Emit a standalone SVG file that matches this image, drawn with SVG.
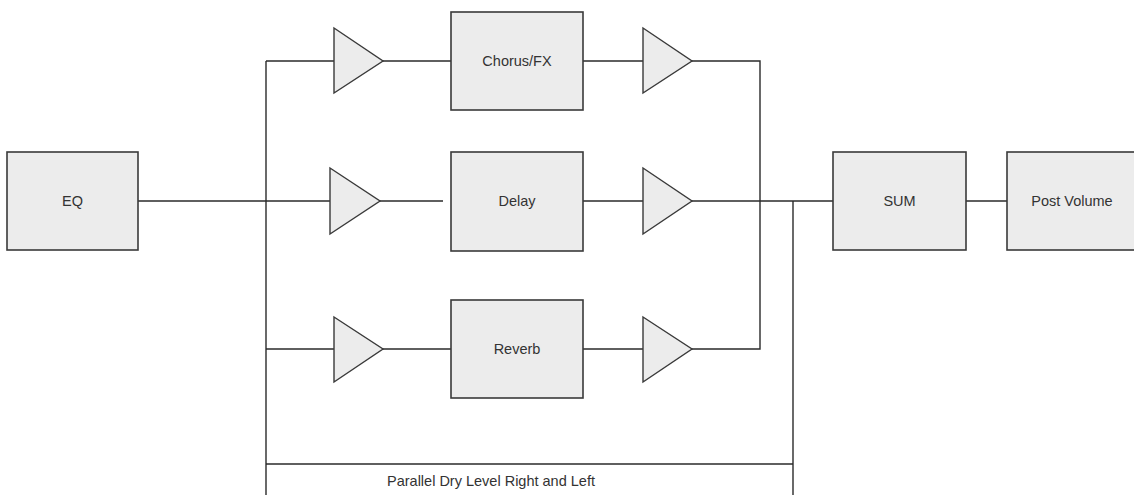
<svg xmlns="http://www.w3.org/2000/svg" width="1134" height="495" viewBox="0 0 1134 495">
<style>
.box{fill:#ececec;stroke:#3a3a3a;stroke-width:1.6}
.amp{fill:#ececec;stroke:#3a3a3a;stroke-width:1.4;stroke-linejoin:miter}
.w{fill:none;stroke:#2a2a2a;stroke-width:1.4}
.t{font-family:"Liberation Sans",Arial,sans-serif;font-size:14.5px;fill:#333;text-anchor:middle}
.lbl{font-family:"Liberation Sans",Arial,sans-serif;font-size:14.5px;fill:#333}
</style>
<rect width="1134" height="495" fill="#ffffff"/>
<g id="connectors">
<path class="w" d="M138,201 H330"/>
<path class="w" d="M266,61 V495"/>
<path class="w" d="M266,61 H334"/>
<path class="w" d="M383,61 H451"/>
<path class="w" d="M583,61 H643"/>
<path class="w" d="M692,61 H760 V349 H692"/>
<path class="w" d="M380,201 H443"/>
<path class="w" d="M583,201 H643"/>
<path class="w" d="M692,201 H833"/>
<path class="w" d="M266,349 H334"/>
<path class="w" d="M383,349 H451"/>
<path class="w" d="M583,349 H643"/>
<path class="w" d="M793,201 V495"/>
<path class="w" d="M266,464 H793"/>
<path class="w" d="M966,201 H1007"/>
</g>
<g id="eq"><rect class="box" x="7" y="152" width="131" height="98"/><text class="t" x="72.5" y="206">EQ</text></g>
<g id="amp-chorus-in"><polygon class="amp" points="334,28 383,61 334,93"/></g>
<g id="chorus"><rect class="box" x="451" y="12" width="132" height="98"/><text class="t" x="517" y="66">Chorus/FX</text></g>
<g id="amp-chorus-out"><polygon class="amp" points="643,28 692,61 643,93"/></g>
<g id="amp-delay-in"><polygon class="amp" points="330,168 380,201 330,234"/></g>
<g id="delay"><rect class="box" x="451" y="152" width="132" height="99"/><text class="t" x="517" y="206">Delay</text></g>
<g id="amp-delay-out"><polygon class="amp" points="643,168 692,201 643,234"/></g>
<g id="amp-reverb-in"><polygon class="amp" points="334,317 383,349 334,382"/></g>
<g id="reverb"><rect class="box" x="451" y="300" width="132" height="98"/><text class="t" x="517" y="354">Reverb</text></g>
<g id="amp-reverb-out"><polygon class="amp" points="643,317 692,349 643,382"/></g>
<g id="sum"><rect class="box" x="833" y="152" width="133" height="98"/><text class="t" x="899.5" y="206">SUM</text></g>
<g id="post-volume"><rect class="box" x="1007" y="152" width="132" height="98"/><text class="t" x="1072" y="206">Post Volume</text></g>
<g id="dry-label"><text class="lbl" x="387" y="486">Parallel Dry Level Right and Left</text></g>
</svg>
